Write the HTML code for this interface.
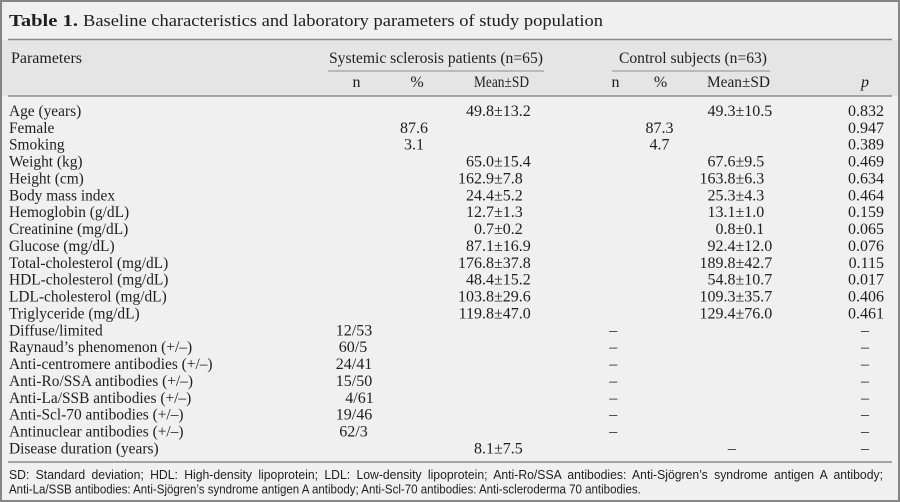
<!DOCTYPE html>
<html>
<head>
<meta charset="utf-8">
<style>
html,body{margin:0;padding:0;background:#f0f0f0;}
svg{display:block;}
text{font-family:"Liberation Serif",serif;fill:#1e1e1e;}
.l{font-size:15.4px;}
.v{font-size:16px;}
.h{font-size:16px;}
.f{font-family:"Liberation Sans",sans-serif;font-size:12.5px;}
</style>
</head>
<body>
<svg width="900" height="502" viewBox="0 0 900 502" xmlns="http://www.w3.org/2000/svg">
<rect x="0" y="0" width="900" height="502" fill="#f0f0f0"/>
<rect x="2" y="40" width="896" height="56" fill="#e5e5e5"/>
<rect x="1" y="1" width="898" height="500" fill="none" stroke="#858585" stroke-width="2"/>

<!-- Title -->
<text x="9" y="26" font-size="17" font-weight="bold" textLength="69" lengthAdjust="spacingAndGlyphs">Table 1.</text>
<text x="83" y="26" font-size="17" textLength="520" lengthAdjust="spacingAndGlyphs">Baseline characteristics and laboratory parameters of study population</text>

<!-- rules -->
<line x1="8" y1="39.5" x2="892" y2="39.5" stroke="#8a8a8a" stroke-width="1.5"/>
<line x1="328" y1="71" x2="544" y2="71" stroke="#8a8a8a" stroke-width="1"/>
<line x1="612" y1="71" x2="770" y2="71" stroke="#8a8a8a" stroke-width="1"/>
<line x1="8" y1="96" x2="892" y2="96" stroke="#8a8a8a" stroke-width="1.5"/>
<line x1="8" y1="462" x2="892" y2="462" stroke="#8a8a8a" stroke-width="1.5"/>

<!-- Header -->
<text class="h" x="11" y="63" textLength="71" lengthAdjust="spacingAndGlyphs">Parameters</text>
<text class="h" x="329" y="63" textLength="214" lengthAdjust="spacingAndGlyphs">Systemic sclerosis patients (n=65)</text>
<text class="h" x="619" y="63" textLength="148" lengthAdjust="spacingAndGlyphs">Control subjects (n=63)</text>
<text class="h" x="356.5" y="87" text-anchor="middle">n</text>
<text class="h" x="417" y="87" text-anchor="middle">%</text>
<text class="h" x="474" y="87" textLength="55" lengthAdjust="spacingAndGlyphs">Mean±SD</text>
<text class="h" x="615.5" y="87" text-anchor="middle">n</text>
<text class="h" x="660.5" y="87" text-anchor="middle">%</text>
<text class="h" x="707" y="87" textLength="63" lengthAdjust="spacingAndGlyphs">Mean±SD</text>
<text class="h" x="865" y="87" text-anchor="middle" font-style="italic">p</text>

<!-- Labels -->
<g class="l">
<text class="l" x="9" y="116">Age (years)</text>
<text class="l" x="9" y="132.9">Female</text>
<text class="l" x="9" y="149.7">Smoking</text>
<text class="l" x="9" y="166.6">Weight (kg)</text>
<text class="l" x="9" y="183.5">Height (cm)</text>
<text class="l" x="9" y="200.4">Body mass index</text>
<text class="l" x="9" y="217.2">Hemoglobin (g/dL)</text>
<text class="l" x="9" y="234.1">Creatinine (mg/dL)</text>
<text class="l" x="9" y="251">Glucose (mg/dL)</text>
<text class="l" x="9" y="267.8">Total-cholesterol (mg/dL)</text>
<text class="l" x="9" y="284.7">HDL-cholesterol (mg/dL)</text>
<text class="l" x="9" y="301.6">LDL-cholesterol (mg/dL)</text>
<text class="l" x="9" y="318.4">Triglyceride (mg/dL)</text>
<text class="l" x="9" y="335.3">Diffuse/limited</text>
<text class="l" x="9" y="352.2">Raynaud’s phenomenon (+/–)</text>
<text class="l" x="9" y="369.1">Anti-centromere antibodies (+/–)</text>
<text class="l" x="9" y="385.9">Anti-Ro/SSA antibodies (+/–)</text>
<text class="l" x="9" y="402.8">Anti-La/SSB antibodies (+/–)</text>
<text class="l" x="9" y="419.7">Anti-Scl-70 antibodies (+/–)</text>
<text class="l" x="9" y="436.5">Antinuclear antibodies (+/–)</text>
<text class="l" x="9" y="453.4">Disease duration (years)</text>
</g>

<!-- SSc Mean±SD (aligned on ±) -->
<g class="v">
<text class="v" x="494" y="116" text-anchor="end">49.8</text><text class="v" x="494" y="116">±13.2</text>
<text class="v" x="494" y="166.6" text-anchor="end">65.0</text><text class="v" x="494" y="166.6">±15.4</text>
<text class="v" x="494" y="183.5" text-anchor="end">162.9</text><text class="v" x="494" y="183.5">±7.8</text>
<text class="v" x="494" y="200.4" text-anchor="end">24.4</text><text class="v" x="494" y="200.4">±5.2</text>
<text class="v" x="494" y="217.2" text-anchor="end">12.7</text><text class="v" x="494" y="217.2">±1.3</text>
<text class="v" x="494" y="234.1" text-anchor="end">0.7</text><text class="v" x="494" y="234.1">±0.2</text>
<text class="v" x="494" y="251" text-anchor="end">87.1</text><text class="v" x="494" y="251">±16.9</text>
<text class="v" x="494" y="267.8" text-anchor="end">176.8</text><text class="v" x="494" y="267.8">±37.8</text>
<text class="v" x="494" y="284.7" text-anchor="end">48.4</text><text class="v" x="494" y="284.7">±15.2</text>
<text class="v" x="494" y="301.6" text-anchor="end">103.8</text><text class="v" x="494" y="301.6">±29.6</text>
<text class="v" x="494" y="318.4" text-anchor="end">119.8</text><text class="v" x="494" y="318.4">±47.0</text>
<text class="v" x="494" y="453.4" text-anchor="end">8.1</text><text class="v" x="494" y="453.4">±7.5</text>

<!-- SSc % -->
<text class="v" x="414" y="132.9" text-anchor="middle">87.6</text>
<text class="v" x="414" y="149.7" text-anchor="middle">3.1</text>

<!-- SSc n -->
<text class="v" x="354" y="335.3" text-anchor="middle">12/53</text>
<text class="v" x="353" y="352.2" text-anchor="middle">60/5</text>
<text class="v" x="354" y="369.1" text-anchor="middle">24/41</text>
<text class="v" x="354" y="385.9" text-anchor="middle">15/50</text>
<text class="v" x="359.5" y="402.8" text-anchor="middle">4/61</text>
<text class="v" x="354" y="419.7" text-anchor="middle">19/46</text>
<text class="v" x="353.5" y="436.5" text-anchor="middle">62/3</text>

<!-- Control Mean±SD -->
<text class="v" x="735.5" y="116" text-anchor="end">49.3</text><text class="v" x="735.5" y="116">±10.5</text>
<text class="v" x="735.5" y="166.6" text-anchor="end">67.6</text><text class="v" x="735.5" y="166.6">±9.5</text>
<text class="v" x="735.5" y="183.5" text-anchor="end">163.8</text><text class="v" x="735.5" y="183.5">±6.3</text>
<text class="v" x="735.5" y="200.4" text-anchor="end">25.3</text><text class="v" x="735.5" y="200.4">±4.3</text>
<text class="v" x="735.5" y="217.2" text-anchor="end">13.1</text><text class="v" x="735.5" y="217.2">±1.0</text>
<text class="v" x="735.5" y="234.1" text-anchor="end">0.8</text><text class="v" x="735.5" y="234.1">±0.1</text>
<text class="v" x="735.5" y="251" text-anchor="end">92.4</text><text class="v" x="735.5" y="251">±12.0</text>
<text class="v" x="735.5" y="267.8" text-anchor="end">189.8</text><text class="v" x="735.5" y="267.8">±42.7</text>
<text class="v" x="735.5" y="284.7" text-anchor="end">54.8</text><text class="v" x="735.5" y="284.7">±10.7</text>
<text class="v" x="735.5" y="301.6" text-anchor="end">109.3</text><text class="v" x="735.5" y="301.6">±35.7</text>
<text class="v" x="735.5" y="318.4" text-anchor="end">129.4</text><text class="v" x="735.5" y="318.4">±76.0</text>
<text class="v" x="731.7" y="453.4" text-anchor="middle">–</text>

<!-- Control % -->
<text class="v" x="659.5" y="132.9" text-anchor="middle">87.3</text>
<text class="v" x="659.5" y="149.7" text-anchor="middle">4.7</text>

<!-- Control n dashes -->
<text class="v" x="613.3" y="335.3" text-anchor="middle">–</text>
<text class="v" x="613.3" y="352.2" text-anchor="middle">–</text>
<text class="v" x="613.3" y="369.1" text-anchor="middle">–</text>
<text class="v" x="613.3" y="385.9" text-anchor="middle">–</text>
<text class="v" x="613.3" y="402.8" text-anchor="middle">–</text>
<text class="v" x="613.3" y="419.7" text-anchor="middle">–</text>
<text class="v" x="613.3" y="436.5" text-anchor="middle">–</text>

<!-- p -->
<text class="v" x="884" y="116" text-anchor="end">0.832</text>
<text class="v" x="884" y="132.9" text-anchor="end">0.947</text>
<text class="v" x="884" y="149.7" text-anchor="end">0.389</text>
<text class="v" x="884" y="166.6" text-anchor="end">0.469</text>
<text class="v" x="884" y="183.5" text-anchor="end">0.634</text>
<text class="v" x="884" y="200.4" text-anchor="end">0.464</text>
<text class="v" x="884" y="217.2" text-anchor="end">0.159</text>
<text class="v" x="884" y="234.1" text-anchor="end">0.065</text>
<text class="v" x="884" y="251" text-anchor="end">0.076</text>
<text class="v" x="884" y="267.8" text-anchor="end">0.115</text>
<text class="v" x="884" y="284.7" text-anchor="end">0.017</text>
<text class="v" x="884" y="301.6" text-anchor="end">0.406</text>
<text class="v" x="884" y="318.4" text-anchor="end">0.461</text>
<text class="v" x="865" y="335.3" text-anchor="middle">–</text>
<text class="v" x="865" y="352.2" text-anchor="middle">–</text>
<text class="v" x="865" y="369.1" text-anchor="middle">–</text>
<text class="v" x="865" y="385.9" text-anchor="middle">–</text>
<text class="v" x="865" y="402.8" text-anchor="middle">–</text>
<text class="v" x="865" y="419.7" text-anchor="middle">–</text>
<text class="v" x="865" y="436.5" text-anchor="middle">–</text>
<text class="v" x="865" y="453.4" text-anchor="middle">–</text>
</g>

<!-- Footer -->
<g transform="translate(9,0) scale(0.81,1)">
<text class="f" x="0" y="479" word-spacing="3" textLength="1079" lengthAdjust="spacingAndGlyphs">SD: Standard deviation; HDL: High-density lipoprotein; LDL: Low-density lipoprotein; Anti-Ro/SSA antibodies: Anti-Sjögren’s syndrome antigen A antibody;</text>
<text class="f" x="0" y="493.3" textLength="780" lengthAdjust="spacingAndGlyphs">Anti-La/SSB antibodies: Anti-Sjögren’s syndrome antigen A antibody; Anti-Scl-70 antibodies: Anti-scleroderma 70 antibodies.</text>
</g>
</svg>
</body>
</html>
